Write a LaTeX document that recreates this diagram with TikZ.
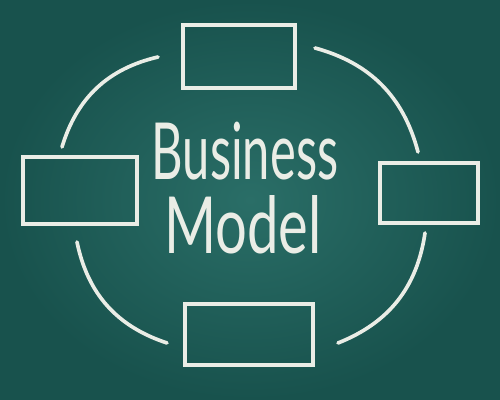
\documentclass[tikz,border=0pt]{standalone}
\usepackage{fontspec}
\usetikzlibrary{positioning, calc}
\newfontfamily\chalkfont[FakeStretch=0.62]{Lato}
\definecolor{boardlight}{RGB}{42,110,103}
\definecolor{boarddark}{RGB}{24,82,77}
\definecolor{chalk}{RGB}{234,237,230}

\begin{document}
\begin{tikzpicture}[
    x=0.025cm, y=-0.025cm,
    box/.style={
        rectangle, draw=chalk, line width=2.8pt, line cap=round,
        minimum width=#1, inner sep=0pt
    },
    chalkline/.style={draw=chalk, line width=2.6pt, line cap=round},
    word/.style={
        text=chalk, inner sep=0pt, anchor=base,
        font=\chalkfont\fontsize{56}{60}\selectfont
    }
]

% board
\useasboundingbox (0,0) rectangle (500,400);
\shade[inner color=boardlight, outer color=boarddark] (0,0) rectangle (500,400);

% the four boxes
\node[box=2.8cm, minimum height=1.575cm] (top) at (239,56.5) {};
\node[box=2.85cm, minimum height=1.675cm] (left) at (80,190.5) {};
\node[box=2.45cm, minimum height=1.5cm] (right) at (429,193) {};
\node[box=3.2cm, minimum height=1.525cm] (bottom) at (249,334.5) {};

% title
\node[word] (business) at (245,180) {Business};
\node[word] (model) at (243,253) {\scalebox{1.15}[1]{Model}};

% arc ends
\coordinate (tlA) at (158,57);
\coordinate (tlB) at (62,147);
\coordinate (blA) at (77,242);
\coordinate (blB) at (167,343);
\coordinate (brA) at (338,343);
\coordinate (brB) at (425,233);
\coordinate (trA) at (418,152);
\coordinate (trB) at (315,48);

% arcs round the title
\draw[chalkline] (tlA) to[bend right=30] (tlB);
\draw[chalkline] (blA) to[bend right=30] (blB);
\draw[chalkline] (brA) to[bend right=30] (brB);
\draw[chalkline] (trA) to[bend right=30] (trB);

\end{tikzpicture}
\end{document}
